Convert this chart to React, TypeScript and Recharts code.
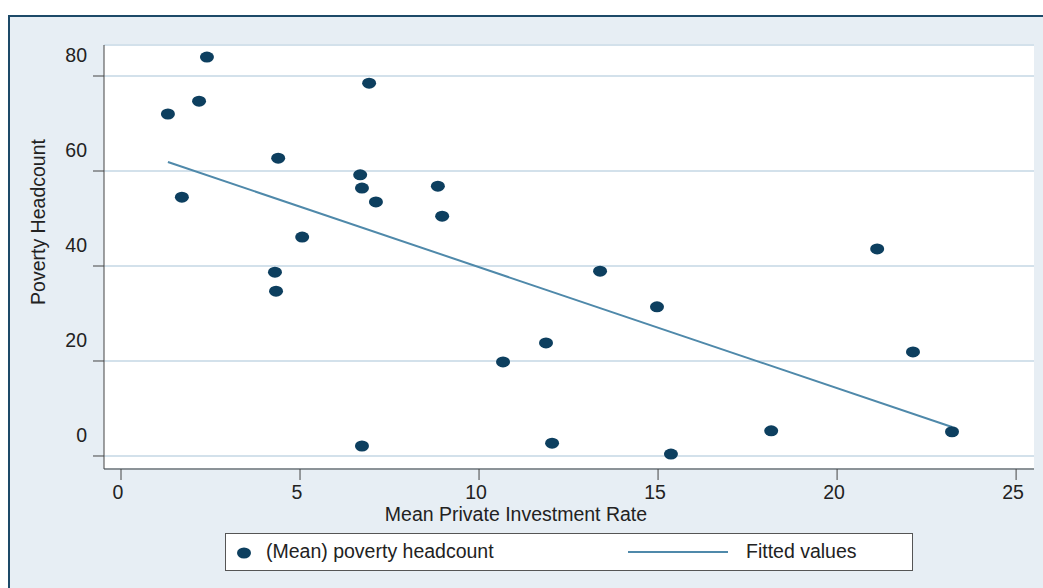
import React from 'react';
import { ScatterChart, Scatter, XAxis, YAxis, CartesianGrid, Label } from 'recharts';

// mean private investment rate (x) vs mean poverty headcount (y), one point per country
const investRate = [
  2.4, 2.18, 1.31, 4.39, 1.7, 6.93, 6.68, 6.73, 7.12, 8.85, 8.97, 5.06, 4.3,
  4.33, 13.38, 14.97, 11.87, 10.67, 6.73, 12.04, 15.36, 18.16, 21.12, 22.12, 23.21,
];
const povertyHeadcount = [
  84.0, 74.7, 72.0, 62.7, 54.5, 78.5, 59.2, 56.4, 53.5, 56.8, 50.5, 46.1, 38.7,
  34.7, 38.9, 31.4, 23.8, 19.8, 2.1, 2.7, 0.4, 5.3, 43.6, 21.9, 5.1,
];

// endpoints of the linear fit
const fitX = [1.31, 23.21];
const fitY = [61.9, 6.1];

const xTicks = [0, 5, 10, 15, 20, 25];
const yTicks = [0, 20, 40, 60, 80];

const points = investRate.map((x, i) => ({ x, y: povertyHeadcount[i] }));
const fitted = fitX.map((x, i) => ({ x, y: fitY[i] }));

const FONT = 'Liberation Sans, Arial, Helvetica, sans-serif';
const FS = 19.5;
const TEXT = '#222';
const NAVY = '#0d3f5f';
const STEEL = '#4f89aa';
const AXIS = '#444';

const Dot = (props: any) => {
  const { cx, cy } = props;
  if (cx == null || cy == null) return <g />;
  return <ellipse cx={cx} cy={cy} rx={7} ry={5.5} fill={NAVY} />;
};

const NoDot = () => <g />;

const YTick = ({ x, y, payload }: any) => (
  <text x={x - 4} y={y - 21} textAnchor="end" dominantBaseline="central" fontSize={FS} fill={TEXT} fontFamily={FONT}>
    {payload.value}
  </text>
);

const XTick = ({ x, y, payload }: any) => (
  <text x={x - 3} y={y + 10} textAnchor="middle" dominantBaseline="central" fontSize={FS} fill={TEXT} fontFamily={FONT}>
    {payload.value}
  </text>
);

// key box under the plot
const LegendBox = () => (
  <div
    style={{
      position: 'absolute',
      left: 225,
      top: 533,
      width: 688,
      height: 38,
      boxSizing: 'border-box',
      background: '#fff',
      border: '1px solid #555',
      fontFamily: FONT,
      fontSize: FS,
      color: TEXT,
    }}
  >
    <svg width={20} height={14} style={{ position: 'absolute', left: 10, top: 12 }}>
      <ellipse cx={8} cy={7} rx={7} ry={5.5} fill={NAVY} />
    </svg>
    <span style={{ position: 'absolute', left: 40, top: 6 }}>(Mean) poverty headcount</span>
    <svg width={102} height={6} style={{ position: 'absolute', left: 402, top: 15 }}>
      <line x1={0} y1={3} x2={100} y2={3} stroke={STEEL} strokeWidth={2} />
    </svg>
    <span style={{ position: 'absolute', left: 520, top: 6 }}>Fitted values</span>
  </div>
);

export default function App() {
  return (
    <div
      style={{
        position: 'absolute',
        left: 0,
        top: 0,
        width: 1043,
        height: 588,
        background: '#fff',
        overflow: 'hidden',
      }}
    >
      <div
        style={{
          position: 'absolute',
          left: 8,
          top: 15,
          width: 1043,
          height: 600,
          background: '#e7eef4',
          borderTop: '2px solid #1d4a68',
          borderLeft: '2px solid #1d4a68',
          boxSizing: 'border-box',
        }}
      />
      <div style={{ position: 'absolute', left: 0, top: 0 }}>
        <ScatterChart width={1043} height={588} margin={{ top: 45, right: 9, left: 44, bottom: 89 }}>
          <CartesianGrid vertical={false} stroke="#d3e1eb" strokeWidth={2} fill="#fff" />
          <XAxis
            type="number"
            dataKey="x"
            domain={[-0.475, 25.5]}
            ticks={xTicks}
            allowDataOverflow
            height={30}
            tickSize={11}
            stroke={AXIS}
            tick={<XTick />}
          >
            <Label
              content={() => (
                <text x={516} y={514} textAnchor="middle" dominantBaseline="central" fontSize={FS} fill={TEXT} fontFamily={FONT}>
                  Mean Private Investment Rate
                </text>
              )}
            />
          </XAxis>
          <YAxis
            type="number"
            dataKey="y"
            domain={[-2.74, 86.53]}
            ticks={yTicks}
            allowDataOverflow
            width={60}
            tickSize={11}
            stroke={AXIS}
            tick={<YTick />}
          >
            <Label
              content={() => (
                <text
                  x={38}
                  y={222}
                  transform="rotate(-90 38 222)"
                  textAnchor="middle"
                  dominantBaseline="central"
                  fontSize={FS}
                  fill={TEXT}
                  fontFamily={FONT}
                >
                  Poverty Headcount
                </text>
              )}
            />
          </YAxis>
          <Scatter
            name="Fitted values"
            data={fitted}
            line={{ stroke: STEEL, strokeWidth: 2 }}
            shape={NoDot}
            isAnimationActive={false}
          />
          <Scatter name="(Mean) poverty headcount" data={points} shape={Dot} isAnimationActive={false} />
        </ScatterChart>
      </div>
      <LegendBox />
    </div>
  );
}
